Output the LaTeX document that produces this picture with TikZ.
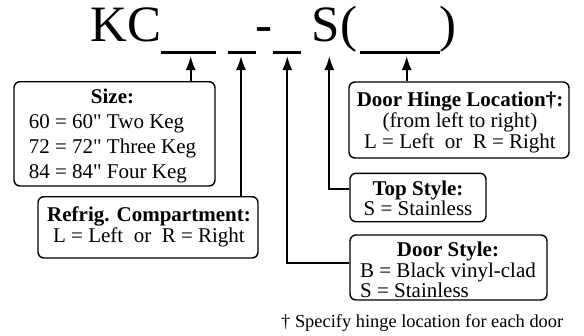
\documentclass[tikz,border=0pt]{standalone}
\usepackage{fontspec}
\setmainfont{Liberation Serif}[Ligatures=TeXOff]
\usetikzlibrary{arrows.meta}
\begin{document}
\begin{tikzpicture}[x=1pt,y=-1pt,
  box/.style={draw, line width=1.4pt, rounded corners=6pt, inner sep=0pt},
  txt/.style={inner sep=0pt, anchor=base},
  big/.style={inner sep=0pt, anchor=base, font=\fontsize{51}{51}\selectfont},
  blank/.style={inner sep=0pt, minimum height=7.4pt},
  uline/.style={line width=2.6pt},
  arr/.style={line width=2pt, -{Latex[length=14pt,width=10pt]}},
]
\useasboundingbox (0,0) rectangle (584,335);

% title
\node[big] (kc) at (126.4,41.7) {KC};
\node[big] (dash) at (263.5,41.7) {-};
\node[big] (s) at (326,41.7) {S};
\node[big] (lp) at (348.5,41.7) {(};
\node[big] (rp) at (447.5,41.7) {)};

% blanks
\node[blank, minimum width=55.3pt] (blank1) at (188.35,52.3) {};
\node[blank, minimum width=27.6pt] (blank2) at (241.5,52.3) {};
\node[blank, minimum width=27.7pt] (blank3) at (286.85,52.3) {};
\node[blank, minimum width=80pt] (blank4) at (400,52.3) {};
\foreach \b in {blank1,blank2,blank3,blank4}
  \draw[uline] (\b.west) -- (\b.east);

% arrow targets
\coordinate (a1) at (190.7,56);
\coordinate (a2) at (241,56);
\coordinate (a3) at (287.3,56);
\coordinate (a4) at (329.3,56);
\coordinate (a5) at (406.7,56);

% boxes
\node[box, minimum width=201pt, minimum height=104.3pt] (sizebox) at (114.5,133.85) {};
\node[box, minimum width=220pt, minimum height=61.3pt] (refbox) at (148,227.35) {};
\node[box, minimum width=220pt, minimum height=76pt] (hingebox) at (459,120) {};
\node[box, minimum width=136pt, minimum height=48.4pt] (topbox) at (418,197.5) {};
\node[box, minimum width=197pt, minimum height=65pt] (doorbox) at (448.5,267.5) {};

% box texts
\node[txt, font=\fontsize{21}{25}\selectfont] (sizetext) at (112.5,103) {%
  \begin{tabular}[t]{@{}l@{}}\multicolumn{1}{@{}c@{}}{\textbf{Size:}}\\
  60 = 60" Two Keg\\ 72 = 72" Three Keg\\ 84 = 84" Four Keg\end{tabular}};
\node[txt, font=\fontsize{21}{20}\selectfont] (reftext) at (149,221.7) {%
  \begin{tabular}[t]{@{}c@{}}\textbf{Refrig. Compartment:}\\
  L = Left~~or~~R = Right\end{tabular}};
\node[txt, font=\fontsize{21}{20.8}\selectfont] (hingetext) at (460,106.7) {%
  \begin{tabular}[t]{@{}c@{}}\textbf{Door Hinge Location†:}\\
  (from left to right)\\ L = Left~~or~~R = Right\end{tabular}};
\node[txt, font=\fontsize{21}{20}\selectfont] (toptext) at (418,195) {%
  \begin{tabular}[t]{@{}c@{}}\textbf{Top Style:}\\ S = Stainless\end{tabular}};
\node[txt, font=\fontsize{21}{19.7}\selectfont] (doortext) at (448,256.7) {%
  \begin{tabular}[t]{@{}l@{}}\multicolumn{1}{@{}c@{}}{\textbf{Door Style:}}\\
  B = Black vinyl-clad\\ S = Stainless\end{tabular}};

% footnote
\node[txt, anchor=base west, font=\fontsize{18.4}{20}\selectfont] (note) at (281,327) {† Specify hinge location for each door};

% connectors
\draw[arr] (sizebox.north -| a1) -- (a1);
\draw[arr] (refbox.north -| a2) -- (a2);
\draw[arr] ([yshift=4.8pt]doorbox.west) -| (a3);
\draw[arr] ([yshift=8.2pt]topbox.west) -| (a4);
\draw[arr] (hingebox.north -| a5) -- (a5);
\end{tikzpicture}
\end{document}
